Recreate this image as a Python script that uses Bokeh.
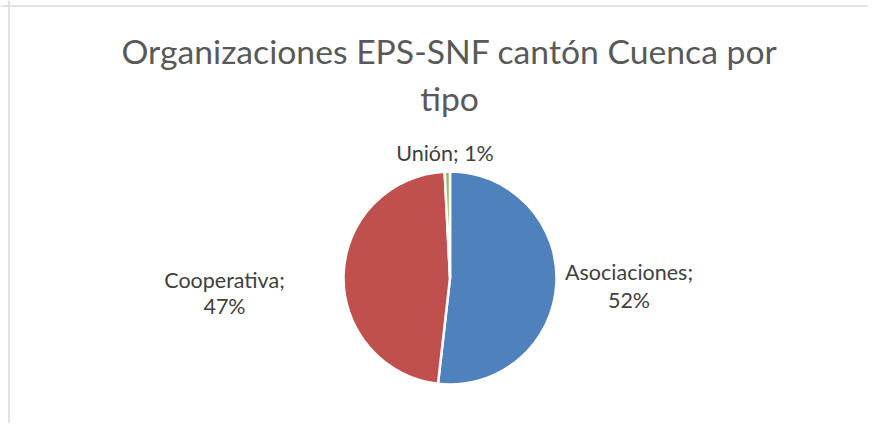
import math
from bokeh.plotting import figure
from bokeh.models import Range1d, Span, ColumnDataSource
from bokeh.core.properties import value
from bokeh.embed import file_html
from bokeh.resources import INLINE

# ---- data ----
categories = ["Asociaciones", "Cooperativa", "Unión"]
shares = [51.8, 47.4, 0.8]
pct_labels = ["52%", "47%", "1%"]
colors = ["#4F81BD", "#C0504D", "#9BBB59"]
title_lines = ["Organizaciones EPS-SNF cantón Cuenca por", "tipo"]

# ---- layout (pixel space of the figure) ----
W, H = 868, 423
FONT = "Lato"

def img_y(y):
    return H - y

def img_x(x):
    return x

cx, cy, r = img_x(449.5), img_y(277.5), 106.5

p = figure(width=W, height=H, x_range=Range1d(0, W), y_range=Range1d(0, H),
           output_backend="svg", toolbar_location=None, min_border=0,
           x_axis_location=None, y_axis_location=None)
p.grid.visible = False
p.outline_line_color = None
p.background_fill_color = "white"
p.border_fill_color = "white"

# chart-area border (top and left visible)
p.add_layout(Span(location=img_x(8.5), dimension="height", line_color="#D9D9D9", line_width=1.5))
p.add_layout(Span(location=img_y(5.5), dimension="width", line_color="#D9D9D9", line_width=1.5))

# ---- pie ----
total = sum(shares)
starts, ends, cum = [], [], 0.0
for s in shares:
    starts.append(math.pi / 2 - 2 * math.pi * cum / total)
    cum += s
    ends.append(math.pi / 2 - 2 * math.pi * cum / total)

src = ColumnDataSource(dict(cat=categories, start=starts, end=ends, color=colors))
p.wedge(x=cx, y=cy, radius=r, start_angle="start", end_angle="end", direction="clock",
        fill_color="color", line_color="white", line_width=2.5, source=src)

# ---- title ----
p.text(x=[449, 449], y=[img_y(50), img_y(97)], text=title_lines,
       text_font=value(FONT), text_font_size="33.7px", text_color="#595959",
       text_align="center", text_baseline="middle")

# ---- data labels ----
label_centers = [(628.5, 271, 299), (224, 279, 305), (444.5, 152, None)]
lx, ly, lt = [], [], []
for cat, pct, (x, y1, y2) in zip(categories, pct_labels, label_centers):
    if y2 is None:
        lx.append(img_x(x)); ly.append(img_y(y1)); lt.append(f"{cat}; {pct}")
    else:
        lx.append(img_x(x)); ly.append(img_y(y1)); lt.append(f"{cat};")
        lx.append(img_x(x)); ly.append(img_y(y2)); lt.append(pct)
p.text(x=lx, y=ly, text=lt, text_font=value(FONT), text_font_size="21.5px",
       text_color="#404040", text_align="center", text_baseline="middle")

open("out.html", "w").write(file_html(p, INLINE))
